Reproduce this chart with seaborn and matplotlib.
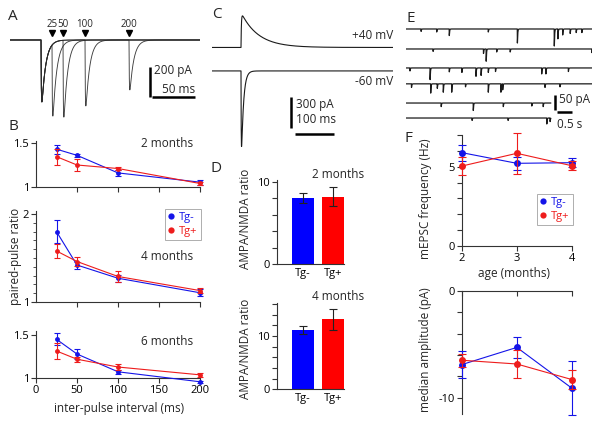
import numpy as np
import pandas as pd
import matplotlib
matplotlib.use('Agg')
import matplotlib.pyplot as plt
from matplotlib.lines import Line2D
import seaborn as sns

sns.set_style('ticks')
plt.rcParams['font.family'] = ['Open Sans', 'DejaVu Sans']
plt.rcParams['font.size'] = 8
plt.rcParams['axes.unicode_minus'] = False

# ---------------- data ----------------
groups = ['Tg-', 'Tg+']

# A: paired-pulse example traces
pp_isi = [25, 50, 100, 200]            # ms, inter-pulse intervals (arrows)
pp_first_amp = [413, 413, 413, 413]    # pA, first response per sweep
pp_second_amp = [480, 513, 440, 333]   # pA, second response per sweep

# B: paired-pulse ratio
ipi = [25, 50, 100, 200]
ppr2_neg = [1.43, 1.36, 1.16, 1.055]
ppr2_neg_err = [0.05, 0.02, 0.03, 0.03]
ppr2_pos = [1.345, 1.25, 1.21, 1.04]
ppr2_pos_err = [0.09, 0.07, 0.02, 0.02]
ppr4_neg = [1.80, 1.42, 1.27, 1.105]
ppr4_neg_err = [0.13, 0.04, 0.04, 0.04]
ppr4_pos = [1.58, 1.46, 1.29, 1.13]
ppr4_pos_err = [0.08, 0.05, 0.06, 0.03]
ppr6_neg = [1.45, 1.28, 1.075, 0.96]
ppr6_neg_err = [0.07, 0.06, 0.02, 0.01]
ppr6_pos = [1.315, 1.22, 1.13, 1.04]
ppr6_pos_err = [0.09, 0.03, 0.04, 0.02]

# C: AMPA / NMDA example traces
c_labels = ['+40 mV', '-60 mV']
c_peak = [296, -709]        # pA
c_decay = [45, 5.5]         # ms

# D: AMPA/NMDA ratio
ampa2 = [8.0, 8.2]
ampa2_err = [0.6, 1.1]
ampa4 = [11.1, 13.1]
ampa4_err = [0.8, 1.9]

# E: mEPSC traces, events (time s, amplitude pA) per sweep
e_events = [
    [(0.5, 8), (1.02, 10), (1.44, 22), (2.74, 10), (3.71, 47), (4.94, 57), (5.06, 33),
     (5.22, 20), (5.47, 15), (5.67, 12), (5.86, 12)],
    [(0.9, 8), (2.58, 15), (2.67, 41), (3.02, 10), (3.47, 10), (6.19, 12)],
    [(0.13, 10), (0.8, 39), (1.44, 13), (1.86, 15), (2.33, 28), (2.5, 25), (2.74, 15),
     (2.98, 12), (4.52, 20), (4.66, 20), (5.41, 12)],
    [(0.18, 12), (0.82, 31), (1.04, 15), (1.24, 28), (1.52, 28), (1.98, 10), (2.74, 28),
     (3.16, 28), (3.22, 20), (4.63, 12), (5.13, 10)],
    [(1.17, 12), (2.24, 25), (3.24, 12), (4.19, 10), (4.57, 12)],
    [(2.2, 8), (3.4, 8), (4.69, 20), (4.8, 12)],
]
e_duration = [6.2, 6.2, 6.2, 6.2, 4.83, 4.83]   # s

# F: mEPSC frequency / amplitude
age = [2, 3, 4]
freq_neg = [5.88, 5.21, 5.25]
freq_neg_err = [0.5, 0.4, 0.3]
freq_pos = [5.04, 5.84, 5.06]
freq_pos_err = [0.55, 1.3, 0.3]
amp_neg = [-6.9, -5.3, -9.1]
amp_neg_err = [1.25, 1.0, 2.5]
amp_pos = [-6.5, -6.85, -8.3]
amp_pos_err = [0.6, 1.3, 0.9]

BLUE = '#1414e8'
RED = '#ee1c1c'
BAR_BLUE = '#0000ff'
BAR_RED = '#ff0000'
SPINE = '#333333'

W, H = 600, 424
fig = plt.figure(figsize=(6, 4.24), dpi=100)


def box(x0, y0, x1, y1):
    return fig.add_axes([x0 / W, 1 - y1 / H, (x1 - x0) / W, (y1 - y0) / H])


def fx(px):
    return px / W


def fy(py):
    return 1 - py / H


def style(ax, left=True, bottom=True, top=False):
    sns.despine(ax=ax, top=not top, right=True, left=not left, bottom=not bottom)
    for s in ax.spines.values():
        s.set_color(SPINE)
        s.set_linewidth(0.8)
    ax.tick_params(colors=SPINE, labelcolor='black', width=0.8, length=3.5,
                   labelsize=8, pad=1.5)
    ax.tick_params(which='minor', colors=SPINE, width=0.6, length=2)
    ax.set_facecolor('none')


def syn(t, tr, td):
    t = np.asarray(t)
    s = np.where(t >= 0, np.exp(-np.clip(t, 0, None) / td) - np.exp(-np.clip(t, 0, None) / tr), 0.0)
    tt = np.linspace(0, 10 * td, 4000)
    pk = np.max(np.exp(-tt / td) - np.exp(-tt / tr))
    return s / pk


# ---------------- panel letters ----------------
for lab, x, y in [('A', 8, 17), ('B', 9, 127), ('C', 212, 14), ('D', 210, 168),
                  ('E', 407, 18), ('F', 405, 139)]:
    fig.text(fx(x), fy(y), lab, fontsize=11, ha='left', va='center')

# ---------------- A ----------------
axA = box(10, 10, 200, 122)
axA.axis('off')
t = np.arange(-71, 364, 0.25)
for isi, a1, a2 in zip(pp_isi, pp_first_amp, pp_second_amp):
    trace = -a1 * syn(t, 0.7, 9) - a2 * syn(t - isi, 0.7, 9)
    axA.plot(t, trace, color='#2a2a2a', lw=0.65, alpha=0.9)
axA.set_xlim(-70.5, 361.4)
axA.set_ylim(-547, 200)
axA.plot(pp_isi, [47] * len(pp_isi), ls='none', marker='v', color='black', ms=5)
for isi in pp_isi:
    axA.text(isi, 105, str(isi), ha='center', va='center', fontsize=7)
axA.plot([247.7, 247.7], [-180, -380], color='black', lw=1.8, solid_capstyle='butt')
axA.plot([252.3, 350], [-383, -383], color='black', lw=1.8, solid_capstyle='butt')
axA.text(257, -205, '200 pA', ha='left', va='center', fontsize=8.5)
axA.text(275, -333, '50 ms', ha='left', va='center', fontsize=8.5)

# ---------------- C ----------------
axC = box(212, 10, 393, 150)
axC.axis('off')
tc = np.arange(-76, 400, 0.2)
offsets_c = [0, -220]
rises = [1.0, 0.6]
for lab, pk, td, off, tr, ly in zip(c_labels, c_peak, c_decay, offsets_c, rises, [110, -320]):
    y = off + pk * syn(tc, tr, td)
    axC.plot(tc, y, color='#1a1a1a', lw=0.8)
    axC.text(400, ly, lab, ha='right', va='center', fontsize=8.5)
axC.set_xlim(-76.3, 400)
axC.set_ylim(-961, 351)
axC.plot([131.6, 131.6], [-464, -754], color='black', lw=1.8, solid_capstyle='butt')
axC.plot([142, 245], [-811, -811], color='black', lw=1.8, solid_capstyle='butt')
axC.text(146, -539, '300 pA', ha='left', va='center', fontsize=8.5)
axC.text(146, -673, '100 ms', ha='left', va='center', fontsize=8.5)

# ---------------- E ----------------
axE = box(406, 20, 592, 130)
axE.axis('off')
e_offsets = [0, -66.7, -130, -183, -247, -297]
for ev, dur, off in zip(e_events, e_duration, e_offsets):
    te = np.arange(0, dur, 0.001)
    y = np.full_like(te, off)
    for (et, ea) in ev:
        y = y - ea * syn(te - et, 0.0015, 0.01)
    axE.plot(te, y, color='#1a1a1a', lw=0.9)
axE.set_xlim(0, 6.2)
axE.set_ylim(-337, 30)
axE.plot([4.967, 4.967], [-220, -270], color='black', lw=1.8, solid_capstyle='butt')
axE.plot([5.033, 5.533], [-277, -277], color='black', lw=1.8, solid_capstyle='butt')
axE.text(5.1, -236, '50 pA', ha='left', va='center', fontsize=8.5)
axE.text(5.03, -320, '0.5 s', ha='left', va='center', fontsize=8.5)


# ---------------- B ----------------
def series(ax, x, y, err, color, ms=3.5, cap=2):
    sns.lineplot(x=x, y=y, ax=ax, color=color, marker='o', markersize=ms,
                 markeredgewidth=0, linewidth=0.8, clip_on=False, zorder=3)
    ax.errorbar(x, y, yerr=err, fmt='none', ecolor=color, elinewidth=0.8,
                capsize=cap, capthick=0.8, clip_on=False, zorder=3)


b_specs = [
    (187, 88.0, 1.52, ppr2_neg, ppr2_neg_err, ppr2_pos, ppr2_pos_err, '2 months', 1.49, [1, 1.5]),
    (302, 88.0, 2.03, ppr4_neg, ppr4_neg_err, ppr4_pos, ppr4_pos_err, '4 months', 1.52, [1, 2]),
    (378.3, 86.7, 1.55, ppr6_neg, ppr6_neg_err, ppr6_pos, ppr6_pos_err, '6 months', 1.42, [1, 1.5]),
]
b_axes = []
for i, (y1, ppu, top, yn, en, yp, ep, title, ty, yt) in enumerate(b_specs):
    ax = box(36, y1 - (top - 1) * ppu, 200, y1)
    style(ax)
    series(ax, ipi, yn, en, BLUE)
    series(ax, ipi, yp, ep, RED)
    ax.set_xlim(0, 200)
    ax.set_ylim(1, top)
    ax.set_yticks(yt)
    ax.set_yticklabels([('%g' % v) for v in yt])
    if i == 1:
        ax.set_yticks(np.arange(1.1, 2.0, 0.1), minor=True)
    if i < 2:
        ax.set_xticks([50, 100, 150, 200])
        ax.set_xticklabels([])
    else:
        ax.set_xticks([0, 50, 100, 150, 200])
        ax.set_xlabel('inter-pulse interval (ms)', fontsize=8.5)
        ax.xaxis.set_label_coords(fx(119.5), fy(402), transform=fig.transFigure)
    ax.set_ylabel('')
    ax.text(191.5, ty, title, ha='right', va='center', fontsize=8.5)
    b_axes.append(ax)

b_axes[1].set_ylabel('paired-pulse ratio', fontsize=8.5)
b_axes[1].yaxis.set_label_coords(fx(22.5), fy(256), transform=fig.transFigure)

leg_handles = [Line2D([], [], ls='none', marker='o', ms=4.5, color=BLUE, mew=0),
               Line2D([], [], ls='none', marker='o', ms=4.5, color=RED, mew=0)]
lg = b_axes[1].legend(leg_handles, groups, loc='upper right',
                      bbox_to_anchor=(fx(201), fy(209)), bbox_transform=fig.transFigure,
                      borderaxespad=0, handlelength=0.6, handletextpad=0.4,
                      borderpad=0.3, labelspacing=0.25, fontsize=8,
                      frameon=True, fancybox=False, labelcolor=[BLUE, RED])
lg.get_frame().set_edgecolor('#999999')
lg.get_frame().set_linewidth(0.7)

# ---------------- D ----------------
d_specs = [(264, 8.23, 10.2, ampa2, ampa2_err, '2 months', 10.9, 218.7),
           (389.3, 5.33, 16.2, ampa4, ampa4_err, '4 months', 17.4, 349)]
for (y0, ppu, top, vals, errs, title, ty, lab_y) in d_specs:
    ax = box(277, y0 - top * ppu, 344.1, y0)
    style(ax)
    df = pd.DataFrame({'group': groups, 'ratio': vals})
    sns.barplot(data=df, x='group', y='ratio', hue='group', palette=[BAR_BLUE, BAR_RED],
                width=0.73, ax=ax, legend=False, linewidth=0, errorbar=None, saturation=1)
    ax.errorbar([0, 1], vals, yerr=errs, fmt='none', ecolor='#222222', elinewidth=0.8,
                capsize=3, capthick=0.8, zorder=4)
    ax.set_xlim(-0.867, 1.37)
    ax.set_ylim(0, top)
    ax.set_yticks(np.arange(0, top, 2))
    ax.set_yticklabels([('%d' % v) if v in (0, 10) else '' for v in np.arange(0, top, 2)])
    ax.tick_params(axis='x', length=0, pad=3)
    ax.set_xlabel('')
    ax.set_ylabel('AMPA/NMDA ratio', fontsize=8.5)
    ax.yaxis.set_label_coords(fx(252), fy(lab_y), transform=fig.transFigure)
    ax.text(2.03, ty, title, ha='right', va='center', fontsize=8.5)

# ---------------- F ----------------
axF1 = box(462, 246 - 7 * 15.87, 571.7, 246)
style(axF1)
series(axF1, age, freq_neg, freq_neg_err, BLUE, ms=5, cap=3)
series(axF1, age, freq_pos, freq_pos_err, RED, ms=5, cap=3)
axF1.set_xlim(2, 4)
axF1.set_ylim(0, 7)
axF1.set_xticks(age)
axF1.set_yticks(range(0, 8))
axF1.set_yticklabels([str(v) if v in (0, 5) else '' for v in range(0, 8)])
axF1.set_xlabel('age (months)', fontsize=8.5)
axF1.xaxis.set_label_coords(fx(514), fy(267), transform=fig.transFigure)
axF1.set_ylabel('mEPSC frequency (Hz)', fontsize=8.5)
axF1.yaxis.set_label_coords(fx(431.7), fy(199), transform=fig.transFigure)
lg2 = axF1.legend(leg_handles, groups, loc='upper right',
                  bbox_to_anchor=(fx(573), fy(194)), bbox_transform=fig.transFigure,
                  borderaxespad=0, handlelength=0.6, handletextpad=0.4,
                  borderpad=0.3, labelspacing=0.25, fontsize=8,
                  frameon=True, fancybox=False, labelcolor=[BLUE, RED])
lg2.get_frame().set_edgecolor('#999999')
lg2.get_frame().set_linewidth(0.7)

axF2 = box(462, 290.7, 571.7, 290.7 + 11.5 * 10.7)
style(axF2, bottom=False, top=True)
series(axF2, age, amp_neg, amp_neg_err, BLUE, ms=5, cap=3)
series(axF2, age, amp_pos, amp_pos_err, RED, ms=5, cap=3)
axF2.set_xlim(2, 4)
axF2.set_ylim(-11.5, 0)
axF2.xaxis.tick_top()
axF2.set_xticks(age)
axF2.set_xticklabels([])
axF2.tick_params(axis='x', direction='in')
axF2.set_yticks(range(-10, 1, 2))
axF2.set_yticklabels([str(v) if v in (0, -10) else '' for v in range(-10, 1, 2)])
axF2.set_xlabel('')
axF2.set_ylabel('median amplitude (pA)', fontsize=8.5)
axF2.yaxis.set_label_coords(fx(431.7), fy(350), transform=fig.transFigure)

fig.savefig('out.png', dpi=100)
